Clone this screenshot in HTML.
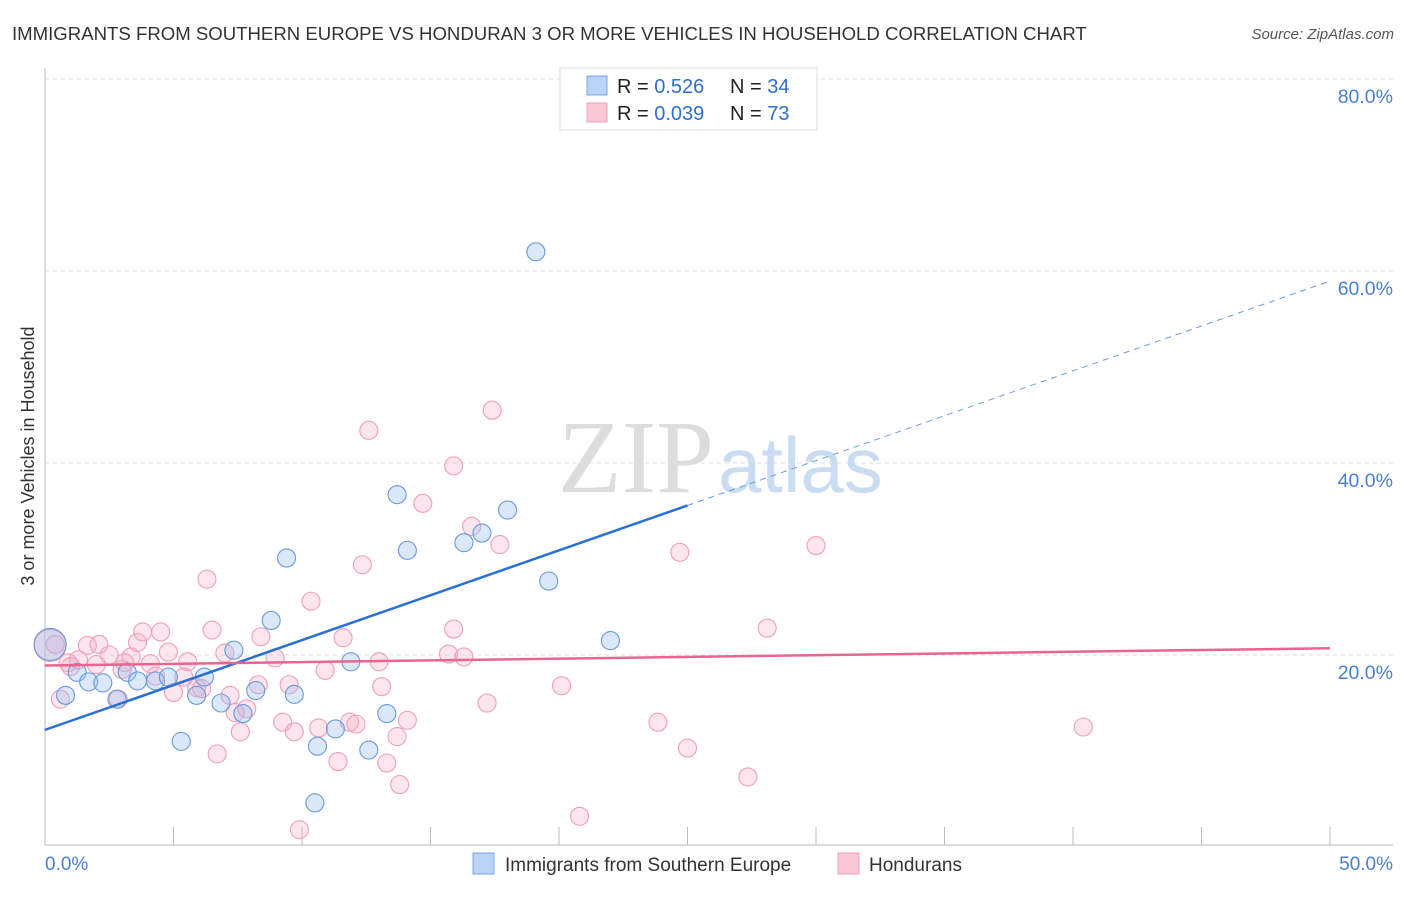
<!DOCTYPE html>
<html><head><meta charset="utf-8"><style>
body{margin:0;background:#fff;font-family:"Liberation Sans",sans-serif;}
svg text{font-family:"Liberation Sans",sans-serif;}
</style></head><body>
<svg id="chart" width="1406" height="892" xmlns="http://www.w3.org/2000/svg">
<text x="12" y="40" font-size="18.6" fill="#333">IMMIGRANTS FROM SOUTHERN EUROPE VS HONDURAN 3 OR MORE VEHICLES IN HOUSEHOLD CORRELATION CHART</text>
<text x="1394" y="39" font-size="15" fill="#555" font-style="italic" text-anchor="end">Source: ZipAtlas.com</text>
<g id="grid"></g>
<text x="714" y="492" font-size="104" fill="#ddd" text-anchor="end" style="font-family:'Liberation Serif',serif">ZIP</text>
<text x="718" y="492" font-size="78" fill="#c9dcf2">atlas</text>
<g id="axes"></g>
<g id="pts"></g>
<g id="lines"></g>
<text transform="translate(34,456) rotate(-90)" font-size="18" fill="#333" text-anchor="middle">3 or more Vehicles in Household</text>
<g>
<rect x="560" y="68" width="257" height="62" fill="#fff" stroke="#ddd"/>
<rect x="587" y="76" width="20" height="19" fill="#b9d3f5" stroke="#7aa6e0"/>
<rect x="587" y="103" width="20" height="19" fill="#fbc8d6" stroke="#eea0b8"/>
<text x="617" y="93" font-size="20" fill="#222">R = <tspan fill="#2d6fd1">0.526</tspan></text>
<text x="730" y="93" font-size="20" fill="#222">N = <tspan fill="#2d6fd1">34</tspan></text>
<text x="617" y="120" font-size="20" fill="#222">R = <tspan fill="#2d6fd1">0.039</tspan></text>
<text x="730" y="120" font-size="20" fill="#222">N = <tspan fill="#2d6fd1">73</tspan></text>
</g>
<g>
<rect x="473" y="853" width="21" height="21" fill="#b9d3f5" stroke="#7aa6e0"/>
<text x="505" y="871" font-size="19" fill="#333">Immigrants from Southern Europe</text>
<rect x="838" y="853" width="21" height="21" fill="#fbc8d6" stroke="#eea0b8"/>
<text x="869" y="871" font-size="19" fill="#333">Hondurans</text>
</g>
</svg>
<script>
const yTicks=[20,40,60,80];
const yTickLabels=["20.0%","40.0%","60.0%","80.0%"];
const xTicks=[5,10,15,20,25,30,35,40,45,50];
const blueX=[0.2,0.8,1.25,1.7,2.25,2.8,3.2,3.6,4.3,4.8,5.3,5.9,6.2,6.85,7.35,7.7,8.2,8.8,9.4,9.7,10.6,10.5,11.3,11.9,12.6,13.3,13.7,14.1,16.3,17.0,18.0,19.1,19.6,22.0];
const blueY=[21.1,15.8,18.2,17.2,17.1,15.4,18.2,17.3,17.3,17.7,11.0,15.8,17.7,15.0,20.5,13.9,16.3,23.6,30.1,15.9,10.5,4.6,12.3,19.3,10.1,13.9,36.7,30.9,31.7,32.7,35.1,62.0,27.7,21.5];
const pinkX=[0.2,0.4,0.6,0.9,1.3,1.65,2.0,2.1,2.5,2.85,3.1,3.35,3.6,3.8,4.1,4.3,4.5,4.8,5.0,5.4,5.55,5.9,6.1,6.3,6.5,6.7,7.0,7.2,7.6,7.85,8.3,8.4,8.95,9.25,9.5,9.7,9.9,10.35,10.65,10.9,11.4,11.6,11.85,12.1,12.35,12.6,13.0,13.1,13.3,13.7,13.8,14.1,14.7,15.7,15.9,15.9,16.3,16.6,17.2,17.4,17.7,20.1,20.8,23.85,24.7,25.0,27.35,28.1,30.0,40.4,1.0,3.0,7.4];
const pinkY=[21.0,21.1,15.4,19.2,19.5,21.0,19.0,21.1,20.0,15.4,19.2,19.8,21.3,22.4,19.1,17.8,22.4,20.3,16.1,17.7,19.3,16.6,16.5,27.9,22.6,9.7,20.2,15.8,12.0,14.4,16.9,21.9,19.7,13.0,16.9,12.0,1.8,25.6,12.4,18.4,8.9,21.8,13.0,12.8,29.4,43.4,19.3,16.7,8.75,11.5,6.5,13.2,35.8,20.1,22.7,39.7,19.8,33.4,15.0,45.5,31.5,16.8,3.2,13.0,30.7,10.3,7.3,22.8,31.4,12.5,18.8,18.5,14.0];
const blueFit=[12.2,0.935];
const pinkFit=[18.9,0.036];
const X=v=>45+v/50*1285, Y=v=>847-v/20*192;
const NS="http://www.w3.org/2000/svg";
function mk(p,t,a){const e=document.createElementNS(NS,t);for(const k in a)e.setAttribute(k,a[k]);document.getElementById(p).appendChild(e);return e;}
yTicks.forEach((t,i)=>{
 const g=mk('grid','line',{x1:45,x2:1393,y1:Y(t),y2:Y(t),stroke:'#ddd','stroke-dasharray':'4,4'});
 
 
 const l=mk('axes','text',{x:1393,y:Y(t)+24,'font-size':19.5,fill:'#4a7fd0','text-anchor':'end'});
 l.textContent=yTickLabels[i];
 
 
});
mk('axes','line',{x1:45,x2:45,y1:68,y2:845,stroke:'#bbb'});
mk('axes','line',{x1:45,x2:1393,y1:845,y2:845,stroke:'#bbb'});
xTicks.forEach(t=>{const e=mk('axes','line',{x1:X(t),x2:X(t),y1:827,y2:845,stroke:'#bbb'});
 
 });
let a=mk('axes','text',{x:45,y:870,'font-size':19,fill:'#4a7fd0'});a.textContent='0.0%';


a=mk('axes','text',{x:1393,y:870,'font-size':19,fill:'#4a7fd0','text-anchor':'end'});a.textContent='50.0%';


function pts(xs,ys,fill,stroke,name){xs.forEach((x,i)=>{const c=mk('pts','circle',{cx:X(x),cy:Y(ys[i]),r:i==0?16:9,fill:fill,stroke:stroke,'stroke-width':1.1});
 
 });}
pts(pinkX,pinkY,'rgba(246,170,195,0.3)','#ef9fb8','point-honduran');
pts(blueX,blueY,'rgba(150,190,238,0.35)','#6a9ada','point-southern-europe');
let l=mk('lines','line',{x1:X(0),y1:Y(blueFit[0]),x2:X(25),y2:Y(blueFit[0]+blueFit[1]*25),stroke:'#2a6fd6','stroke-width':2.5});


l=mk('lines','line',{x1:X(25),y1:Y(blueFit[0]+blueFit[1]*25),x2:X(50),y2:Y(blueFit[0]+blueFit[1]*50),stroke:'#6b9be0','stroke-width':1,'stroke-dasharray':'6,5'});


l=mk('lines','line',{x1:X(0),y1:Y(pinkFit[0]),x2:X(50),y2:Y(pinkFit[0]+pinkFit[1]*50),stroke:'#e8668e','stroke-width':2.5});


</script>
</body></html>
